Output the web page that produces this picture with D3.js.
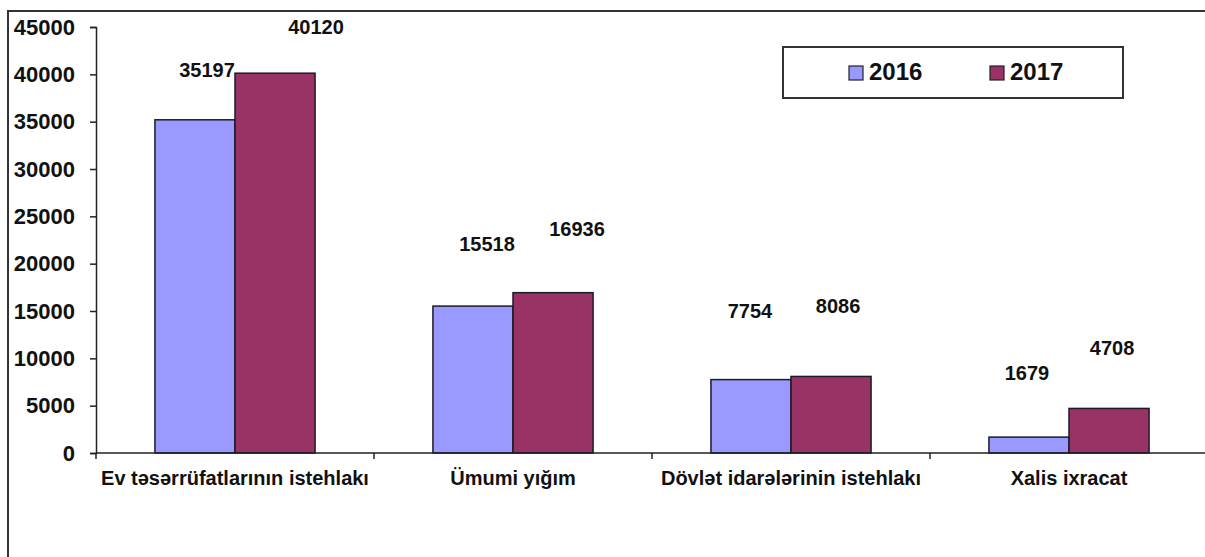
<!DOCTYPE html>
<html>
<head>
<meta charset="utf-8">
<script src="https://cdn.jsdelivr.net/npm/d3@7"></script>
<style>
  html, body { margin: 0; padding: 0; background: #fff; }
  svg { display: block; }
  text { font-family: "Liberation Sans", Arial, sans-serif; font-weight: bold; fill: #111; }
</style>
</head>
<body>
<svg id="chart" width="1205" height="557"></svg>
<script>
// ---- data ----
const categories = ["Ev təsərrüfatlarının istehlakı", "Ümumi yığım", "Dövlət idarələrinin istehlakı", "Xalis ixracat"];
const seriesNames = ["2016", "2017"];
const values2016 = [35197, 15518, 7754, 1679];
const values2017 = [40120, 16936, 8086, 4708];
const yTicks = [0, 5000, 10000, 15000, 20000, 25000, 30000, 35000, 40000, 45000];

// ---- layout / style (not data) ----
const colors = ["#9999FF", "#993366"];
// label nudges [dx from bar centre, gap above bar top], per series per category
const labelNudge = [
  [[12, 43], [14, 55], [-1, 62], [-2, 57]],
  [[41, 39], [24, 57], [7, 63], [3, 53]]
];

const svg = d3.select("#chart");

// outer frame
svg.append("rect")
  .attr("x", 8).attr("y", 11)
  .attr("width", 1250).attr("height", 600)
  .attr("fill", "none").attr("stroke", "#333").attr("stroke-width", 2);

const x0 = d3.scaleBand().domain(categories).range([96, 1208]).paddingInner(0.424).paddingOuter(0.212);
const x1 = d3.scaleBand().domain(seriesNames).range([0, x0.bandwidth()]);
const y = d3.scaleLinear().domain([0, 45000]).range([453, 27]);

// y axis
const yAxis = svg.append("g").attr("transform", "translate(96,0)")
  .call(d3.axisLeft(y).tickValues(yTicks).tickFormat(d3.format("d")).tickSize(6).tickPadding(15));
yAxis.select(".domain").attr("stroke", "#222").attr("stroke-width", 1.5);
yAxis.selectAll(".tick line").attr("stroke", "#222").attr("stroke-width", 1.5);
yAxis.selectAll("text").attr("font-size", 22).attr("fill", "#111")
  .attr("font-family", "'Liberation Sans', Arial, sans-serif").attr("font-weight", "bold");

// bars
const series = [values2016, values2017];
series.forEach((vals, si) => {
  svg.append("g").selectAll("rect")
    .data(vals)
    .join("rect")
    .attr("x", (d, i) => x0(categories[i]) + x1(seriesNames[si]))
    .attr("y", d => y(d))
    .attr("width", x1.bandwidth())
    .attr("height", d => y(0) - y(d))
    .attr("fill", colors[si])
    .attr("stroke", "#1a1a2a")
    .attr("stroke-width", 1.5);
});

// x axis
const step = x0.step();
const boundaries = d3.range(categories.length + 1).map(i => 96 + i * step);
svg.append("line")
  .attr("x1", 96).attr("x2", 1210).attr("y1", y(0)).attr("y2", y(0))
  .attr("stroke", "#222").attr("stroke-width", 1.5);
svg.append("g").selectAll("line").data(boundaries).join("line")
  .attr("x1", d => d).attr("x2", d => d)
  .attr("y1", y(0)).attr("y2", y(0) + 6)
  .attr("stroke", "#222").attr("stroke-width", 1.5);

// category labels
svg.append("g").selectAll("text").data(categories).join("text")
  .attr("x", d => x0(d) + x0.bandwidth() / 2)
  .attr("y", 485)
  .attr("text-anchor", "middle")
  .attr("font-size", 20)
  .text(d => d);

// value labels
series.forEach((vals, si) => {
  svg.append("g").selectAll("text").data(vals).join("text")
    .attr("x", (d, i) => x0(categories[i]) + x1(seriesNames[si]) + x1.bandwidth() / 2 + labelNudge[si][i][0])
    .attr("y", (d, i) => y(d) - labelNudge[si][i][1])
    .attr("text-anchor", "middle")
    .attr("font-size", 20)
    .text(d => d);
});

// legend
const lg = svg.append("g");
lg.append("rect").attr("x", 783).attr("y", 47).attr("width", 340).attr("height", 51)
  .attr("fill", "#fff").attr("stroke", "#333").attr("stroke-width", 2);
const legendX = [849, 990];
seriesNames.forEach((s, i) => {
  lg.append("rect").attr("x", legendX[i]).attr("y", 66).attr("width", 14).attr("height", 14)
    .attr("fill", colors[i]).attr("stroke", "#222").attr("stroke-width", 1.2);
  lg.append("text").attr("x", legendX[i] + 20).attr("y", 80).attr("font-size", 24).text(s);
});
</script>
</body>
</html>
